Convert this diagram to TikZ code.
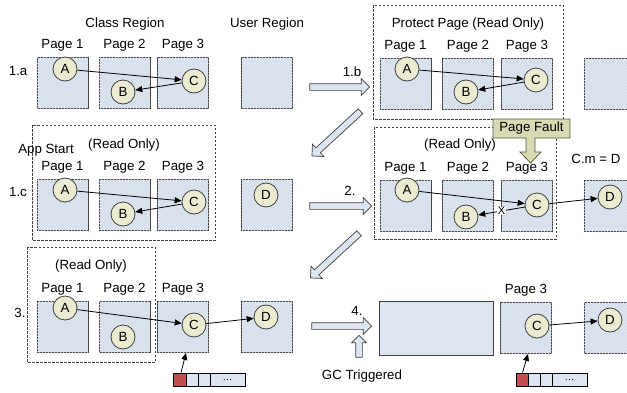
\documentclass[tikz,border=0pt]{standalone}
\usepackage{fontspec}
\setmainfont{Liberation Sans}
\usetikzlibrary{arrows.meta,shapes.arrows,patterns}

\definecolor{pagefill}{RGB}{220,229,241}
\definecolor{objfill}{RGB}{235,235,210}
\definecolor{faultfill}{RGB}{215,218,178}
\definecolor{faultline}{RGB}{90,90,60}
\definecolor{edge}{RGB}{64,64,64}
\definecolor{rootred}{RGB}{192,80,77}

\tikzset{
  page/.style={draw=edge, line width=0.8pt, fill=pagefill, minimum size=51pt, inner sep=0pt,
    postaction={pattern=north east lines, pattern color=pagefill!90!gray}},
  obj/.style={circle, draw=edge, line width=0.8pt, fill=objfill, minimum size=24pt, inner sep=0pt},
  link/.style={line width=0.8pt, -{Triangle[length=7pt,width=6pt]}},
  region/.style={draw=edge, line width=0.7pt, dash pattern=on 2.5pt off 1.5pt},
  hollow/.style={single arrow, draw=edge, line width=0.7pt, fill=pagefill, inner sep=3pt,
    single arrow head extend=5pt},
  cell/.style={draw=black, line width=0.7pt, fill=pagefill, minimum height=13pt, inner sep=0pt},
  every label/.style={inner sep=0pt}
}

\begin{document}
\begin{tikzpicture}[x=1pt, y=-1pt, font=\fontsize{13.3}{16}\selectfont, label distance=6pt]
  \useasboundingbox (0,0) rectangle (627,392);

  % dashed read only regions
  \draw[region] (373,5) rectangle (563,119);
  \draw[region] (32,125) rectangle (215,240);
  \draw[region] (374,127) rectangle (556,239);
  \draw[region] (27,247) rectangle (155,362);

  % left column of pages
  \foreach \r/\y in {a/83, c/205, d/327} {
    \node[page, label=above:Page 1] (p1\r) at (62.5,\y) {};
    \node[page, label=above:Page 2] (p2\r) at (124.5,\y) {};
    \node[page, label=above:Page 3] (p3\r) at (183,\y) {};
    \node[page] (u\r) at (267,\y) {};
  }
  % right column of pages
  \foreach \r/\y in {b/84, e/206} {
    \node[page, label=above:Page 1] (p1\r) at (405.5,\y) {};
    \node[page, label=above:Page 2] (p2\r) at (468,\y) {};
    \node[page, label=above:Page 3] (p3\r) at (527,\y) {};
    \node[page] (u\r) at (609.5,\y) {};
  }
  \node[draw=edge, line width=0.8pt, fill=pagefill, minimum width=114pt, minimum height=54pt] (freed) at (436,328) {};
  \node[page, label=above:Page 3] (p3f) at (526,328) {};
  \node[page] (uf) at (609.5,328) {};

  \node[anchor=base] (cls) at (125,27) {Class Region};
  \node[anchor=base] (usr) at (267,27) {User Region};
  \node[anchor=base] (prot) at (468,27) {Protect Page (Read Only)};
  \node[anchor=base] (start) at (46,153) {App Start};
  \node[anchor=base] (roc) at (124,148) {(Read Only)};
  \node[anchor=base] (roe) at (460,148) {(Read Only)};
  \node[anchor=base] (rod) at (91,269) {(Read Only)};
  \node[anchor=base] (cmd) at (596,163) {C.m = D};
  \node[anchor=base] (gc) at (362,379) {GC Triggered};

  \node (sa) at (18,71) {1.a};
  \node (sc) at (18,192) {1.c};
  \node (sd) at (20,313) {3.};
  \node (sb) at (352,72) {1.b};
  \node (se) at (350,191) {2.};
  \node (sf) at (357,311) {4.};

  % objects
  \node[obj] (Aa) at (65,69) {A};
  \node[obj] (Ba) at (123,92) {B};
  \node[obj] (Ca) at (194,81) {C};
  \node[obj] (Ac) at (65,190) {A};
  \node[obj] (Bc) at (123,214) {B};
  \node[obj] (Cc) at (194,202) {C};
  \node[obj] (Dc) at (266,195) {D};
  \node[obj] (Ad) at (65,308) {A};
  \node[obj] (Bd) at (123,337) {B};
  \node[obj] (Cd) at (194,325) {C};
  \node[obj] (Dd) at (266,317) {D};
  \node[obj] (Ab) at (407,69) {A};
  \node[obj] (Bb) at (466,92) {B};
  \node[obj] (Cb) at (536,80) {C};
  \node[obj] (Ae) at (407,190) {A};
  \node[obj] (Be) at (466,217) {B};
  \node[obj] (Ce) at (537,205) {C};
  \node[obj] (De) at (610,197) {D};
  \node[obj] (Cf) at (537,326) {C};
  \node[obj] (Df) at (610,320) {D};

  \draw[link] (Aa) -- (Ca);
  \draw[link] (Ca) -- (Ba);
  \draw[link] (Ac) -- (Cc);
  \draw[link] (Cc) -- (Bc);
  \draw[link] (Ad) -- (Cd);
  \draw[link] (Cd) -- (Dd);
  \draw[link] (Ab) -- (Cb);
  \draw[link] (Cb) -- (Bb);
  \draw[link] (Ae) -- (Ce);
  \draw[link] (Ce) -- node[fill=white, inner sep=0.5pt, font=\fontsize{11}{11}\selectfont] (cut) {X} (Be);
  \draw[link] (Ce) -- (De);
  \draw[link] (Cf) -- (Df);

  % step arrows
  \node[hollow, minimum height=60pt] (arb) at (338,87) {};
  \node[hollow, minimum height=66pt, rotate=222.6] (arc) at (337.5,132.5) {};
  \node[hollow, minimum height=62pt] (are) at (339,206) {};
  \node[hollow, minimum height=66pt, rotate=222.6] (ard) at (336,254.5) {};
  \node[hollow, minimum height=60pt] (arf) at (340,326) {};
  \node[hollow, minimum height=22pt, rotate=90, single arrow head extend=4pt] (argc) at (359,348) {};

  % page fault callout
  \draw[draw=faultline, fill=faultfill, line width=0.8pt] (493,119) -- (570,119) -- (570,138)
    -- (535,138) -- (535,152) -- (541,152) -- (530.5,163) -- (520,152) -- (526,152)
    -- (526,138) -- (493,138) -- cycle;
  \node (fault) at (531.5,128.5) {Page Fault};

  % root sets
  \node[cell, fill=rootred, minimum width=13pt] (ra) at (179.5,379.5) {};
  \node[cell, minimum width=12pt] (ra2) at (192,379.5) {};
  \node[cell, minimum width=12pt] (ra3) at (204,379.5) {};
  \node[cell, minimum width=35pt, font=\fontsize{10}{10}\selectfont] (ra4) at (227.5,379.5) {\ldots};
  \node[cell, fill=rootred, minimum width=12pt] (rf) at (522,379.5) {};
  \node[cell, minimum width=12pt] (rf2) at (534,379.5) {};
  \node[cell, minimum width=12pt] (rf3) at (546,379.5) {};
  \node[cell, minimum width=35pt, font=\fontsize{10}{10}\selectfont] (rf4) at (569.5,379.5) {\ldots};

  \draw[link] ([xshift=1.5pt]ra.north) -- ([xshift=3pt]p3d.south);
  \draw[link] ([xshift=0.5pt]rf.north) -- ([xshift=2pt]p3f.south);
\end{tikzpicture}
\end{document}
